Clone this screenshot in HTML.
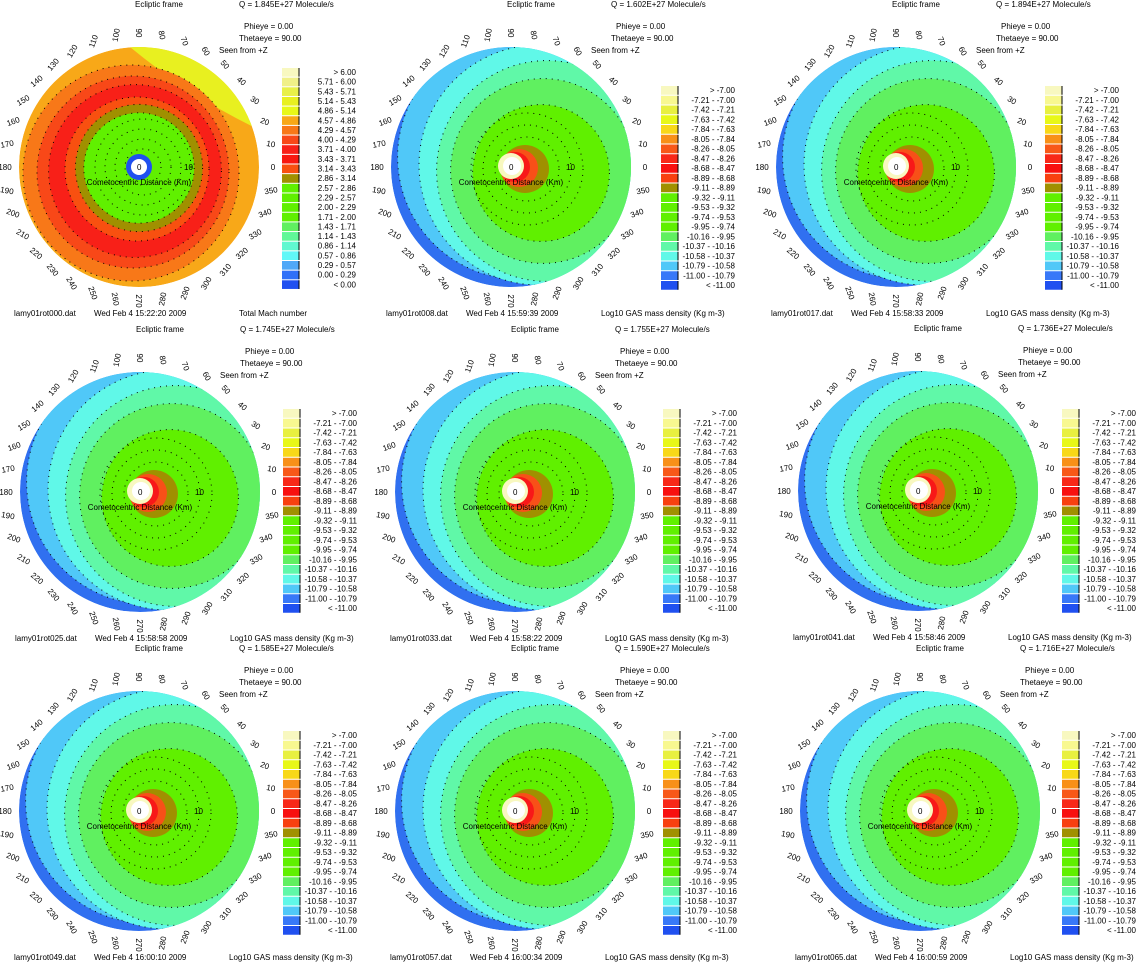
<!DOCTYPE html>
<html><head><meta charset="utf-8">
<style>
html,body{margin:0;padding:0;background:#fff;}
svg{display:block;font-family:"Liberation Sans",sans-serif;}
</style></head>
<body>
<svg id="fig" width="1137" height="963" viewBox="0 0 1137 963" xmlns="http://www.w3.org/2000/svg"></svg>
<script>
// ---- data ----
const panelFiles = ["lamy01rot000.dat","lamy01rot008.dat","lamy01rot017.dat","lamy01rot025.dat","lamy01rot033.dat","lamy01rot041.dat","lamy01rot049.dat","lamy01rot057.dat","lamy01rot065.dat"];
const panelDates = ["Wed Feb  4 15:22:20 2009","Wed Feb  4 15:59:39 2009","Wed Feb  4 15:58:33 2009","Wed Feb  4 15:58:58 2009","Wed Feb  4 15:58:22 2009","Wed Feb  4 15:58:46 2009","Wed Feb  4 16:00:10 2009","Wed Feb  4 16:00:34 2009","Wed Feb  4 16:00:59 2009"];
const panelQ = ["1.845E+27","1.602E+27","1.894E+27","1.745E+27","1.755E+27","1.736E+27","1.585E+27","1.590E+27","1.716E+27"];
const panelCx = [139,511,896,140,515,918,139,515,920];
const panelCy = [167,167,167,492,492,491,811,811,811];
const legendX = [282,661,1045,283,663,1062,283,663,1062];
const legendTop = [68,86,86,409,409,409,731,731,731];
const machLabels = ["> 6.00","5.71 - 6.00","5.43 - 5.71","5.14 - 5.43","4.86 - 5.14","4.57 - 4.86","4.29 - 4.57","4.00 - 4.29","3.71 - 4.00","3.43 - 3.71","3.14 - 3.43","2.86 - 3.14","2.57 - 2.86","2.29 - 2.57","2.00 - 2.29","1.71 - 2.00","1.43 - 1.71","1.14 - 1.43","0.86 - 1.14","0.57 - 0.86","0.29 - 0.57","0.00 - 0.29","< 0.00"];
const machColors = ["#f8f8c0","#f0f088","#e8f048","#e8f020","#e8f818","#f8a818","#f87818","#f84818","#f82018","#f81810","#f85010","#a09000","#60f000","#60f000","#60f000","#60f000","#60f060","#60f898","#60f8d0","#60f8f8","#50a8f8","#3070f8","#2050f0"];
const densLabels = [">  -7.00","-7.21 - -7.00","-7.42 - -7.21","-7.63 - -7.42","-7.84 - -7.63","-8.05 - -7.84","-8.26 - -8.05","-8.47 - -8.26","-8.68 - -8.47","-8.89 - -8.68","-9.11 - -8.89","-9.32 - -9.11","-9.53 - -9.32","-9.74 - -9.53","-9.95 - -9.74","-10.16 - -9.95","-10.37 - -10.16","-10.58 - -10.37","-10.79 - -10.58","-11.00 - -10.79","<  -11.00"];
const densColors = ["#f8f8c0","#f8f890","#e8f040","#e8f818","#f8d818","#f89018","#f85818","#f82818","#f81010","#f84010","#a09000","#60f000","#60f000","#60f000","#60f000","#60f060","#60f8a8","#60f8e8","#50c8f8","#3878f8","#2050f0"];
const angleTicks = [0,10,20,30,40,50,60,70,80,90,100,110,120,130,140,150,160,170,180,190,200,210,220,230,240,250,260,270,280,290,300,310,320,330,340,350];
// density contour bands: [color, dx, dy, radius fraction]
const densBands = [["#3070f0",0,0,1.0],["#50c8f8",9,-10,1.02],["#60f8e8",28,-2,1.0],["#60f8a8",36,4,0.92],["#60f060",32,4,0.77],["#60f000",30,6,0.57]];
// Mach bands
const machBands = [["#f8a818",0,0,1.0],["#f87818",-8,6,0.9],["#f84818",-6,5,0.8],["#f82018",-4,4,0.72],["#f85010",-2,2,0.6],["#a09000",0,1,0.53],["#60f000",0,1,0.46]];

const NS="http://www.w3.org/2000/svg";
const svg=document.getElementById('fig');
function el(tag,attrs,parent){const e=document.createElementNS(NS,tag);for(const k in attrs)e.setAttribute(k,attrs[k]);(parent||svg).appendChild(e);return e;}
function txt(x,y,s,size,parent,anchor){const t=el('text',{x:x,y:y,'font-size':size||8,fill:'#000','text-anchor':anchor||'start'},parent);t.textContent=s;return t;}

for(let p=0;p<9;p++){
  const cx=panelCx[p],cy=panelCy[p],R=120,mach=(p===0);
  const g=el('g',{});
  
  
  const cid='clip'+p;
  const cp=el('clipPath',{id:cid},g);el('circle',{cx:cx,cy:cy,r:R},cp);
  const plot=el('g',{'clip-path':'url(#'+cid+')'},g);
  
  
  const bands=mach?machBands:densBands;
  if(mach){
    el('circle',{cx:cx,cy:cy,r:R,fill:'#f8a818'},plot);
    el('path',{d:`M${cx-15} ${cy-R-5} Q${cx+50} ${cy-70} ${cx+R+5} ${cy-35} L${cx+R+5} ${cy-R-5} Z`,fill:'#e8f020'},plot);
  }
  bands.forEach((b,i)=>{
    if(mach&&i===0)return;
    const c=el('circle',{cx:cx+b[1],cy:cy+b[2],r:R*b[3],fill:b[0]},plot);
    
    
    if(i>0)el('circle',{cx:cx+b[1],cy:cy+b[2],r:R*b[3],fill:'none',stroke:'#000','stroke-width':1,'stroke-dasharray':'1 5'},plot);
  });
  if(mach){
    for(let k=1;k<5;k++)el('circle',{cx:cx+4,cy:cy,r:8+k*10,fill:'none',stroke:'#000','stroke-dasharray':'1 5'},plot);
    el('circle',{cx:cx,cy:cy,r:13,fill:'#2050f0'},plot);
    el('circle',{cx:cx,cy:cy,r:8,fill:'#fff'},plot);
  } else {
    for(let k=1;k<4;k++)el('circle',{cx:cx+16,cy:cy+2,r:20+k*12,fill:'none',stroke:'#000','stroke-dasharray':'1 5'},plot);
    el('circle',{cx:cx+14,cy:cy+2,r:24,fill:'#a09000'},plot);
    el('circle',{cx:cx+8,cy:cy+1,r:19,fill:'#f85018'},plot);
    el('circle',{cx:cx+4,cy:cy,r:15,fill:'#f81818'},plot);
    el('circle',{cx:cx,cy:cy-1,r:13,fill:'#f8f8c0'},plot);
    el('circle',{cx:cx+1,cy:cy-1,r:9,fill:'#fff'},plot);
  }
  txt(cx-2,cy+3,'0',8,g);
  txt(cx+(mach?45:55),cy+3,'10',8,g);
  const axl=txt(cx,cy+18,'Cometocentric Distance (Km)',8,g,'middle');
  
  
  angleTicks.forEach(a=>{
    const rad=a*Math.PI/180, rr=R+14;
    const x=cx+rr*Math.cos(rad), y=cy-rr*Math.sin(rad);
    let rot=a%180; if(rot>90)rot-=180;
    const t=el('text',{x:x,y:y+3,'font-size':8,'text-anchor':'middle',transform:`rotate(${rot} ${x} ${y})`},g);
    t.textContent=a;
    
    
  });
  txt(cx+20,cy-160,'Ecliptic frame',8,g,'middle');
  txt(cx+100,cy-160,'Q =   '+panelQ[p]+' Molecule/s',8,g);
  txt(cx+105,cy-138,'Phieye =   0.00',8,g);
  txt(cx+100,cy-126,'Thetaeye =  90.00',8,g);
  txt(cx+80,cy-114,'Seen from +Z',8,g);
  txt(cx-125,cy+149,panelFiles[p],8,g);
  txt(cx-45,cy+149,panelDates[p],8,g);
  txt(cx+(mach?100:90),cy+149,mach?'Total Mach number':'Log10 GAS mass density (Kg m-3)',8,g);
  const labels=mach?machLabels:densLabels, cols=mach?machColors:densColors;
  const lg=el('g',{},g);
  
  
  const h=mach?9.65:9.75;
  labels.forEach((lab,i)=>{
    const y=legendTop[p]+i*h;
    const r=el('rect',{x:legendX[p],y:y,width:17,height:h-1,fill:cols[i]},lg);
    
    
    el('line',{x1:legendX[p]+17,y1:y,x2:legendX[p]+17,y2:y+h-1,stroke:'#000','stroke-width':1},lg);
    txt(legendX[p]+74,y+7,lab,8,lg,'end');
  });
}
</script>
</body></html>
